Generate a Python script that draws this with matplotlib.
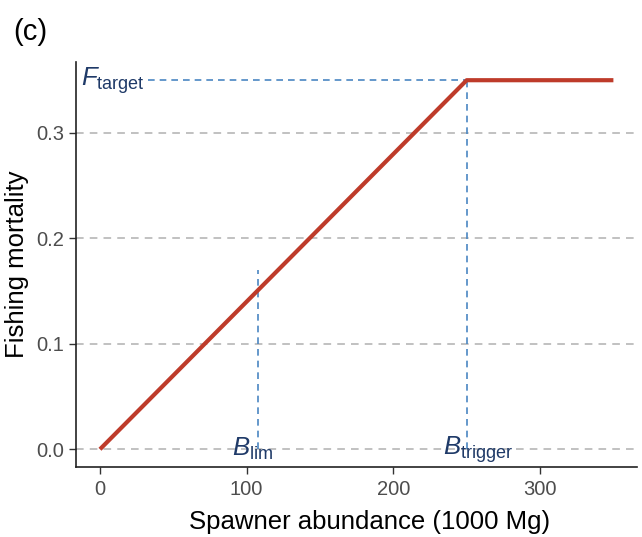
import matplotlib.pyplot as plt

plt.rcParams['font.family'] = ['Liberation Sans', 'DejaVu Sans']
plt.rcParams['mathtext.fontset'] = 'custom'
plt.rcParams['mathtext.rm'] = 'Liberation Sans'
plt.rcParams['mathtext.it'] = 'Liberation Sans:italic'

# harvest control rule
ssb = [0, 250, 350]
fmort = [0, 0.35, 0.35]
b_lim = 108
b_trigger = 250
f_target = 0.35
b_lim_top = 0.17
x_ticks = [0, 100, 200, 300]
y_ticks = [0.0, 0.1, 0.2, 0.3]

red = '#BE3B2A'
blue = '#4A86C2'
navy = '#1F3A68'

fig = plt.figure(figsize=(6.42, 5.37), dpi=100)
ax = fig.add_axes([0.118, 0.130, 0.874, 0.755])

for y in y_ticks:
    ax.axhline(y, color='#B0B0B0', lw=1.1, ls=(0, (5, 4)), zorder=1)

ax.plot([33, b_trigger], [f_target, f_target], color=blue, lw=1.2, ls=(0, (4, 3)), zorder=2)
ax.plot([b_lim, b_lim], [0, b_lim_top], color=blue, lw=1.2, ls=(0, (4, 3)), zorder=2)
ax.plot([b_trigger, b_trigger], [0, f_target], color=blue, lw=1.2, ls=(0, (4, 3)), zorder=2)

ax.plot(ssb, fmort, color=red, lw=3, solid_capstyle='butt', zorder=3)

ax.text(-13, f_target, r'$\mathit{F}_{\mathrm{target}}$', color=navy, fontsize=18.5,
        ha='left', va='center')
ax.text(104, 0.0, r'$\mathit{B}_{\mathrm{lim}}$', color=navy, fontsize=18.5,
        ha='center', va='center')
ax.text(258, 0.0, r'$\mathit{B}_{\mathrm{trigger}}$', color=navy, fontsize=18.5,
        ha='center', va='center')

ax.set_xlim(-16.5, 366)
ax.set_ylim(-0.017, 0.3675)
ax.set_xticks(x_ticks)
ax.set_yticks(y_ticks)
ax.set_yticklabels(['0.0', '0.1', '0.2', '0.3'])
ax.tick_params(labelsize=14.5, labelcolor='#4D4D4D', length=5, width=1, color='#333333')
ax.tick_params(axis='x', pad=4)
for s in ['top', 'right']:
    ax.spines[s].set_visible(False)
for s in ['left', 'bottom']:
    ax.spines[s].set_linewidth(1.2)
    ax.spines[s].set_color('#222222')

ax.set_xlabel('Spawner abundance (1000 Mg)', fontsize=18.5, color='black')
ax.xaxis.set_label_coords(0.524, -0.105)
ax.set_ylabel('Fishing mortality', fontsize=18.5, color='black', labelpad=5)

fig.text(0.02, 0.925, '(c)', fontsize=21, color='black')

fig.savefig('out.png', dpi=100)
